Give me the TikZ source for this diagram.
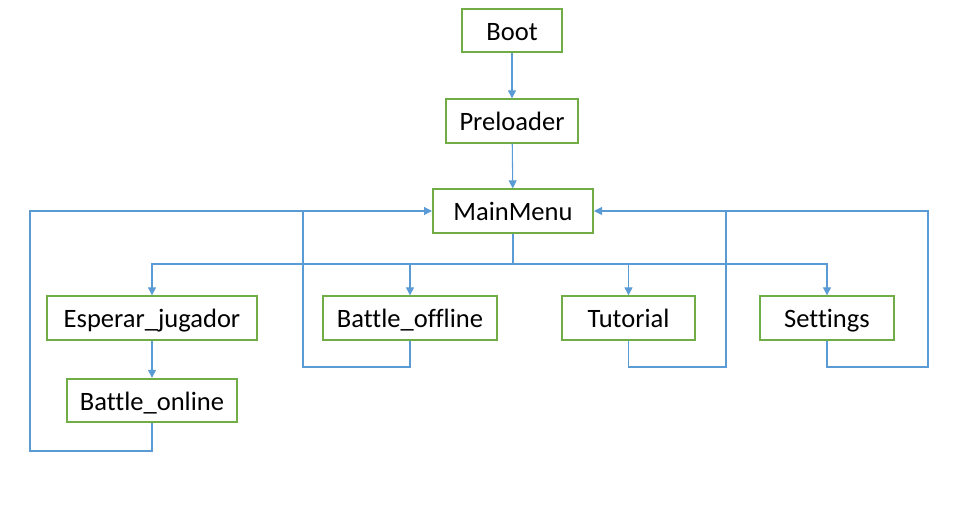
\documentclass[tikz,border=0pt]{standalone}
\usepackage{fontspec}
\setmainfont{Carlito}[Ligatures={NoCommon,NoContextual}]
\usetikzlibrary{arrows.meta}
\definecolor{boxgreen}{HTML}{70AD47}
\definecolor{lineblue}{HTML}{5B9BD5}
\begin{document}
\begin{tikzpicture}[x=0.75pt,y=-0.75pt,
  box/.style={draw=boxgreen,line width=1.5pt,fill=white,inner sep=0pt,
    minimum height=32.5pt,text height=14.3pt,text depth=0pt,
    font=\fontsize{19.9}{24}\selectfont},
  conn/.style={draw=lineblue,line width=0.8pt},
  arr/.style={conn,-{Triangle[length=6pt,width=6pt]}}]
\useasboundingbox (0,0) rectangle (965,504);
\node[box,minimum width=75pt] (boot) at (512,30.5) {Boot};
\node[box,minimum width=99pt] (pre) at (512,121) {Preloader};
\node[box,minimum width=120pt] (mm) at (513,211) {MainMenu};
\node[box,minimum width=157.5pt] (esp) at (152,318) {Esperar\_jugador};
\node[box,minimum width=130.5pt] (boff) at (410,318) {Battle\_offline};
\node[box,minimum width=99.75pt] (tut) at (628.5,318) {Tutorial};
\node[box,minimum width=100.5pt] (set) at (827,318) {Settings};
\node[box,minimum width=127.5pt] (bon) at (152,400.5) {Battle\_online};
\coordinate (bus) at (513,264);
\coordinate (lA) at (30,451);
\coordinate (lB) at (30,211);
\coordinate (oA) at (303,367);
\coordinate (oB) at (303,211);
\coordinate (tA) at (726,367);
\coordinate (tB) at (726,211);
\coordinate (sA) at (928,367);
\coordinate (sB) at (928,211);
\draw[arr] (boot) -- (pre);
\draw[arr] (pre) -- (mm);
\draw[conn] (mm.south) -- (bus);
\draw[arr] (bus) -| (esp.north);
\draw[arr] (bus) -| (boff.north);
\draw[arr] (bus) -| (tut.north);
\draw[arr] (bus) -| (set.north);
\draw[arr] (esp) -- (bon);
\draw[arr] (bon.south) |- (lA) -- (lB) -- (mm.west);
\draw[conn] (boff.south) |- (oA) -- (oB);
\draw[conn] (tut.south) |- (tA) -- (tB);
\draw[arr] (set.south) |- (sA) -- (sB) -- (mm.east);
\end{tikzpicture}
\end{document}
